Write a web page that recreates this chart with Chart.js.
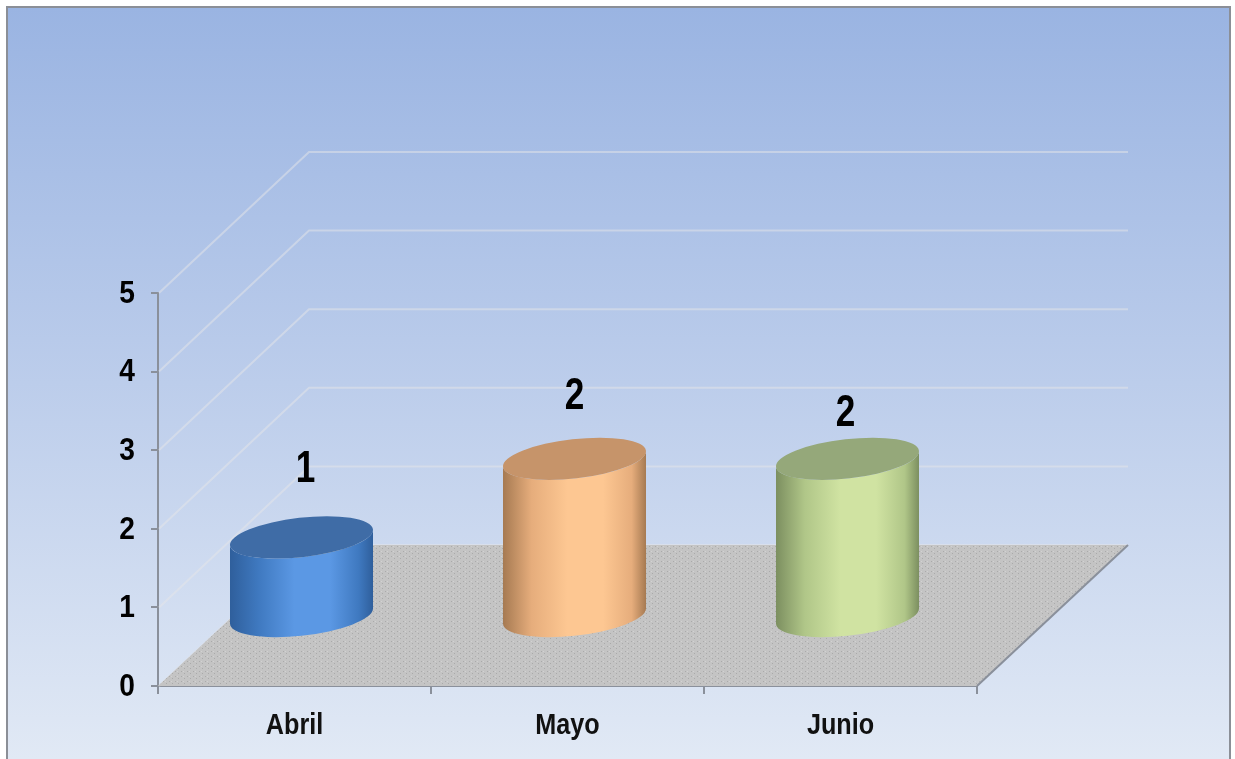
<!DOCTYPE html>
<html>
<head>
<meta charset="utf-8">
<title>Abril Mayo Junio</title>
<style>
  html, body { margin: 0; padding: 0; background: #fff; overflow: hidden; }
  canvas { display: block; filter: blur(0.4px); }
</style>
<script src="https://cdn.jsdelivr.net/npm/chart.js@4"></script>
</head>
<body>
<canvas id="chart" width="1235" height="759"></canvas>
<script>
// data
const months = ['Abril', 'Mayo', 'Junio'];
const counts = [1, 2, 2];
const yTicks = [0, 1, 2, 3, 4, 5];

// colours of each cylinder: side gradient + lid
const sideEdge = ['#2f5f9c', '#a67a52', '#7c8f60'];
const sideMid = ['#3f79c0', '#e6ad7c', '#b0c688'];
const sideLight = ['#5b98e4', '#fdc792', '#d0e3a2'];
const lidColor = ['#3f6ca6', '#c6946a', '#95a87a'];

// value label offset from the lid centre, in px
const labelLift = [70, 64, 47];
const labelNudge = [4, 0, -2];

const FONT = '"Liberation Sans", Arial, sans-serif';
const DEPTH_X = 151;
const DEPTH_Y = -141;
const BAR_SHIFT_X = 7;
const BAR_SHIFT_Y = -70;
const TILT = -6.5 * Math.PI / 180;

// the original font is a narrow one, so squeeze the bold sans sideways
const narrowText = (ctx, text, x, y, size, squeeze, color) => {
  ctx.save();
  ctx.translate(x, y);
  ctx.scale(squeeze, 1);
  ctx.fillStyle = color;
  ctx.font = `bold ${size}px ${FONT}`;
  ctx.textBaseline = 'middle';
  ctx.textAlign = 'center';
  ctx.fillText(text, 0, 0);
  ctx.restore();
};

// small dotted tile for the floor
const floorTile = () => {
  const c = document.createElement('canvas');
  c.width = 6;
  c.height = 5;
  const g = c.getContext('2d');
  g.fillStyle = '#c4c4c4';
  g.fillRect(0, 0, 6, 5);
  g.fillStyle = '#aaaaaa';
  g.fillRect(1, 1, 1, 1);
  g.fillRect(4, 3, 1, 1);
  g.fillStyle = '#d2d2d2';
  g.fillRect(3, 1, 1, 1);
  return c;
};

const backdrop = {
  id: 'backdrop',
  beforeDraw(chart) {
    const { ctx, width, height } = chart;
    ctx.save();
    ctx.fillStyle = '#fff';
    ctx.fillRect(0, 0, width, height);
    const bg = ctx.createLinearGradient(0, 8, 0, height);
    bg.addColorStop(0, '#9ab4e2');
    bg.addColorStop(0.5, '#bccdeb');
    bg.addColorStop(1, '#e1e9f5');
    ctx.fillStyle = bg;
    ctx.fillRect(6, 6, 1225, height);
    ctx.strokeStyle = '#8b8f97';
    ctx.lineWidth = 2;
    ctx.beginPath();
    ctx.moveTo(7, height);
    ctx.lineTo(7, 7);
    ctx.lineTo(1230, 7);
    ctx.lineTo(1230, height);
    ctx.stroke();
    ctx.restore();
  },
  beforeDatasetsDraw(chart) {
    const { ctx, scales: { x, y } } = chart;
    const left = x.left;
    const right = x.right;
    const zero = y.getPixelForValue(0);
    ctx.save();

    // wall lines, one per y tick
    ctx.strokeStyle = 'rgba(230,230,232,0.5)';
    ctx.lineWidth = 2;
    yTicks.forEach((t) => {
      const py = y.getPixelForValue(t);
      ctx.beginPath();
      ctx.moveTo(left + 1, py);
      ctx.lineTo(left + DEPTH_X, py + DEPTH_Y);
      ctx.lineTo(right + DEPTH_X, py + DEPTH_Y);
      ctx.stroke();
    });

    // floor
    ctx.beginPath();
    ctx.moveTo(left, zero);
    ctx.lineTo(left + DEPTH_X, zero + DEPTH_Y);
    ctx.lineTo(right + DEPTH_X, zero + DEPTH_Y);
    ctx.lineTo(right, zero);
    ctx.closePath();
    ctx.fillStyle = ctx.createPattern(floorTile(), 'repeat');
    ctx.fill();

    ctx.strokeStyle = '#8a909b';
    ctx.lineWidth = 2;
    ctx.beginPath();
    ctx.moveTo(right, zero);
    ctx.lineTo(right + DEPTH_X, zero + DEPTH_Y);
    ctx.stroke();
    ctx.restore();
  },
  afterDatasetsDraw(chart) {
    const { ctx } = chart;
    const bars = chart.getDatasetMeta(0).data;
    bars.forEach((bar, i) => {
      const cx = bar.x + BAR_SHIFT_X;
      const top = bar.y + BAR_SHIFT_Y;
      const bottom = bar.base + BAR_SHIFT_Y + 1;
      const halfW = bar.width / 2;
      const a = halfW * 1.006;
      const b = halfW * 0.275;
      // where the side walls touch the tilted ellipse
      const t0 = Math.atan2(-b * Math.sin(TILT), a * Math.cos(TILT));

      ctx.save();
      const side = ctx.createLinearGradient(cx - halfW, 0, cx + halfW, 0);
      side.addColorStop(0, sideEdge[i]);
      side.addColorStop(0.2, sideMid[i]);
      side.addColorStop(0.45, sideLight[i]);
      side.addColorStop(0.7, sideLight[i]);
      side.addColorStop(0.9, sideMid[i]);
      side.addColorStop(1, sideEdge[i]);
      ctx.fillStyle = side;
      ctx.beginPath();
      ctx.ellipse(cx, bottom, a, b, TILT, t0, t0 + Math.PI);
      ctx.ellipse(cx, top, a, b, TILT, t0 + Math.PI, t0, true);
      ctx.closePath();
      ctx.fill();

      ctx.fillStyle = lidColor[i];
      ctx.beginPath();
      ctx.ellipse(cx, top, a, b, TILT, 0, Math.PI * 2);
      ctx.fill();
      ctx.restore();

      narrowText(ctx, String(counts[i]), cx + labelNudge[i], top - labelLift[i] + 2, 44, 0.8, '#000');
    });
  },
  // tick labels, placed through the scales
  afterDraw(chart) {
    const { ctx, scales: { x, y } } = chart;
    months.forEach((m, i) => {
      narrowText(ctx, m, x.getPixelForValue(i), 726, 30, 0.84, '#111');
    });
    yTicks.forEach((t) => {
      narrowText(ctx, String(t), 127, y.getPixelForValue(t) + 1, 32, 0.88, '#000');
    });
  },
};

new Chart(document.getElementById('chart'), {
  type: 'bar',
  data: {
    labels: months,
    datasets: [
      {
        data: counts,
        backgroundColor: 'rgba(0,0,0,0)',
        borderWidth: 0,
        barThickness: 143,
      },
    ],
  },
  options: {
    responsive: false,
    animation: false,
    devicePixelRatio: 1,
    layout: { padding: { left: 0, top: 293, right: 258, bottom: 0 } },
    plugins: {
      legend: { display: false },
      tooltip: { enabled: false },
      title: { display: false },
    },
    scales: {
      x: {
        afterFit: (scale) => { scale.height = 73; },
        grid: {
          drawOnChartArea: false,
          drawTicks: true,
          tickLength: 8,
          color: '#8a909b',
          lineWidth: 2,
        },
        border: { color: '#8a909b', width: 2 },
        ticks: { display: false },
      },
      y: {
        min: 0,
        max: 5,
        afterFit: (scale) => { scale.width = 158; },
        afterBuildTicks: (scale) => { scale.ticks = yTicks.map((v) => ({ value: v })); },
        grid: {
          drawOnChartArea: false,
          drawTicks: true,
          tickLength: 7,
          color: '#8a909b',
          lineWidth: 2,
        },
        border: { color: '#8a909b', width: 2 },
        ticks: { display: false },
      },
    },
  },
  plugins: [backdrop],
});
</script>
</body>
</html>
